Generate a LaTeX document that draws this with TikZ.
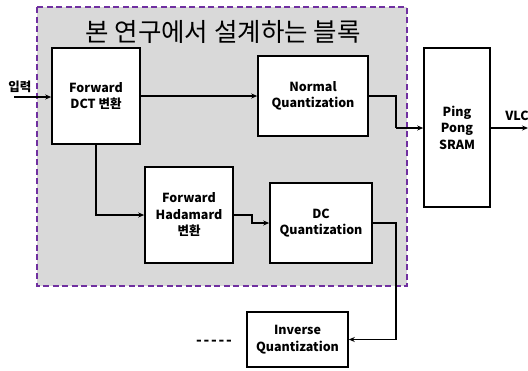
\documentclass[tikz,border=0pt]{standalone}
\usepackage{fontspec}
\setmainfont{Noto Sans CJK KR}
\usetikzlibrary{arrows.meta}
\definecolor{regionfill}{HTML}{D9D9D9}
\definecolor{regionedge}{HTML}{7030A0}
\begin{document}
\begin{tikzpicture}[x=1pt,y=-1pt,
  blk/.style={draw=black,line width=1.6pt,fill=white,inner sep=0pt,align=center,
    font=\fontsize{12.5}{16.5}\selectfont\bfseries},
  wire/.style={draw=black,line width=1.3pt},
  arr/.style={wire,-{Stealth[length=6pt,width=5pt]}},
  lbl/.style={font=\fontsize{12.5}{14}\selectfont\bfseries,inner sep=0pt}]
\useasboundingbox (0,0) rectangle (528,370);
% design region
\draw[fill=regionfill,draw=regionedge,line width=1.8pt,dash pattern=on 6pt off 3.5pt]
  (37,7) rectangle (407,286);
\node[inner sep=0pt,font=\fontsize{25.5}{28}\selectfont] (title) at (223,32) {본 연구에서 설계하는 블록};
% blocks
\node[blk,minimum width=88pt,minimum height=96pt] (dct) at (96,96) {Forward\\DCT 변환};
\node[blk,minimum width=110pt,minimum height=80pt] (nq) at (313,96) {Normal\\Quantization};
\node[blk,minimum width=88pt,minimum height=96pt] (had) at (189,215) {Forward\\Hadamard\\변환};
\node[blk,minimum width=102pt,minimum height=80pt] (dcq) at (321,223) {DC\\Quantization};
\node[blk,minimum width=101pt,minimum height=55pt] (iq) at (297.5,339.5) {Inverse\\Quantization};
\node[blk,minimum width=66pt,minimum height=159pt] (sram) at (457,127.5) {Ping\\Pong\\SRAM};
% labels and free ends
\node[lbl] (inlbl) at (20,87) {입력};
\node[lbl] (vlc) at (517,116) {VLC};
\node[lbl,font=\fontsize{15}{16}\selectfont\bfseries\addfontfeature{LetterSpace=12}] (dash) at (214,343) {-{}-{}-{}-{}-};
\coordinate (in) at (14,97);
\coordinate (out) at (528,128);
\coordinate (bus) at (396,128);
% connectors
\draw[arr] (in) -- (in -| dct.west);
\draw[arr] (dct.east) -- (nq.west);
\draw[arr] (dct.south) |- (had.west);
\draw[arr] (had.east) -- (252,215) |- (dcq.west);
\draw[wire] (nq.east) -| (bus);
\draw[arr] (bus) -- (bus -| sram.west);
\draw[arr] (dcq.east) -| (bus |- iq.east) -- (iq.east);
\draw[arr] (sram.east |- out) -- (out);
\end{tikzpicture}
\end{document}
